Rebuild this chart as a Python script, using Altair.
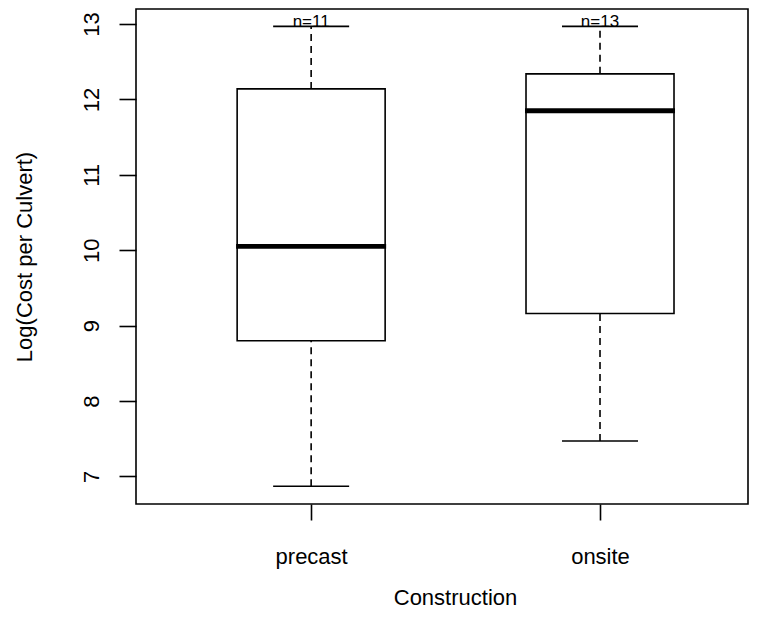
import json
import altair as alt
import pandas as pd

categories = ["precast", "onsite"]
positions = [1, 2]
lower_whisker = [6.87, 7.47]
q1 = [8.80, 9.16]
median = [10.05, 11.85]
q3 = [12.14, 12.34]
upper_whisker = [12.97, 12.97]
counts = [11, 13]
y_ticks = [7, 8, 9, 10, 11, 12, 13]

df = pd.DataFrame({
    "category": categories,
    "pos": positions,
    "lower": lower_whisker,
    "q1": q1,
    "median": median,
    "q3": q3,
    "upper": upper_whisker,
    "label": [f"n={n}" for n in counts],
})

FONT = "Liberation Sans"
FS = 22
LW = 1.6
label_expr = json.dumps(categories).replace('"', "'") + "[datum.value - 1]"

x_scale = alt.Scale(domain=[0.411, 2.495], nice=False, zero=False)
y_scale = alt.Scale(domain=[6.634, 13.20], nice=False, zero=False)

x_axis = alt.Axis(values=positions, labelExpr=label_expr, title="Construction",
                  grid=False, domain=False, tickSize=16, tickColor="black",
                  tickWidth=LW, labelFontSize=FS, labelFont=FONT, labelColor="black",
                  labelPadding=26, titleFontSize=FS, titleFont=FONT,
                  titleFontWeight="normal", titleColor="black", titlePadding=20,
                  titleX=319)
y_axis = alt.Axis(values=y_ticks, title="Log(Cost per Culvert)", grid=False,
                  domain=False, tickSize=17, tickColor="black", tickWidth=LW,
                  labelAngle=-90, labelAlign="center", labelBaseline="bottom",
                  labelFontSize=FS, labelFont=FONT, labelColor="black",
                  labelPadding=16, titleFontSize=FS, titleFont=FONT,
                  titleFontWeight="normal", titleColor="black", titlePadding=44)

def X():
    return alt.X("pos:Q", scale=x_scale, axis=x_axis)

def Y(field):
    return alt.Y(f"{field}:Q", scale=y_scale, axis=y_axis)

base = alt.Chart(df)

whisk_lo = base.mark_rule(color="black", strokeWidth=LW, strokeDash=[7, 5]).encode(
    x=X(), y=Y("lower"), y2="q1:Q")
whisk_hi = base.mark_rule(color="black", strokeWidth=LW, strokeDash=[7, 5]).encode(
    x=X(), y=Y("q3"), y2="upper:Q")
cap_lo = base.mark_tick(orient="horizontal", size=76, thickness=LW, color="black", opacity=1).encode(
    x=X(), y=Y("lower"))
cap_hi = base.mark_tick(orient="horizontal", size=76, thickness=LW, color="black", opacity=1).encode(
    x=X(), y=Y("upper"))
box = base.mark_bar(size=148, fill="white", stroke="black", strokeWidth=LW, opacity=1).encode(
    x=X(), y=Y("q1"), y2="q3:Q")
med = base.mark_tick(orient="horizontal", size=150, thickness=4.8, color="black", opacity=1).encode(
    x=X(), y=Y("median"))
ntext = base.mark_text(fontSize=17, font=FONT, color="black", baseline="alphabetic", dy=1).encode(
    x=X(), y=Y("upper"), text="label:N")

chart = alt.layer(whisk_lo, whisk_hi, cap_lo, cap_hi, box, med, ntext).properties(
    width=612, height=495,
    autosize=alt.AutoSizeParams(type="none"),
    padding={"left": 128, "top": 1, "right": 10, "bottom": 124},
    background="white",
).configure_view(stroke="black", strokeWidth=LW)

chart.save("out.html", embed_options={"renderer": "svg", "actions": False})
